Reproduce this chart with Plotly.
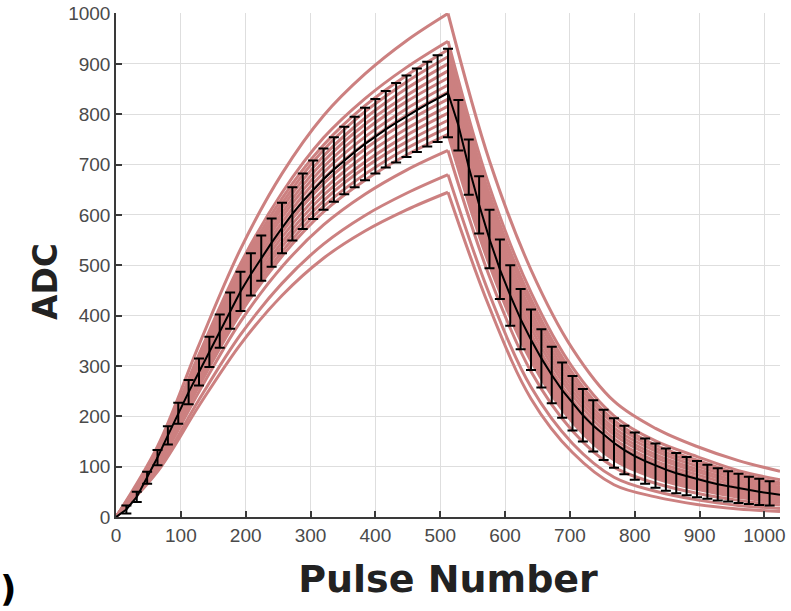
import plotly.graph_objects as go

# Sample grid for the individual channel curves; pulse 512 is the end of the charge phase
curve_pulses = [0, 64, 128, 192, 256, 320, 384, 448, 512, 576, 640, 704, 768, 832, 896, 960, 1024]
PEAK_INDEX = 8

# ADC readings per channel at curve_pulses
channel_adc = [
    [0, 140, 342, 532, 682, 797, 880, 946, 1000, 707, 491, 334, 230, 176, 140, 112, 91],
    [0, 132, 323, 503, 644, 753, 831, 893, 945, 656, 446, 297, 201, 151, 120, 92, 74],
    [0, 130, 317, 494, 633, 739, 817, 877, 928, 640, 432, 286, 192, 143, 113, 86, 68],
    [0, 128, 313, 487, 623, 729, 805, 864, 914, 627, 421, 277, 185, 137, 107, 81, 64],
    [0, 126, 308, 479, 614, 717, 792, 851, 900, 614, 409, 268, 177, 131, 101, 76, 59],
    [0, 124, 303, 471, 604, 706, 780, 837, 886, 601, 398, 259, 170, 124, 95, 71, 55],
    [0, 122, 298, 464, 595, 695, 768, 825, 872, 588, 387, 250, 163, 118, 90, 66, 51],
    [0, 120, 293, 457, 585, 684, 755, 811, 858, 575, 375, 241, 155, 111, 84, 61, 46],
    [0, 118, 289, 449, 575, 672, 742, 798, 844, 561, 363, 231, 147, 105, 78, 55, 41],
    [0, 116, 284, 442, 566, 662, 731, 785, 830, 551, 354, 224, 142, 100, 74, 53, 39],
    [0, 114, 279, 434, 556, 650, 718, 771, 816, 541, 345, 216, 136, 95, 70, 50, 37],
    [0, 112, 274, 426, 546, 639, 705, 758, 802, 530, 336, 209, 130, 91, 66, 47, 35],
    [0, 110, 270, 419, 537, 628, 694, 745, 788, 521, 327, 202, 124, 86, 63, 44, 33],
    [0, 108, 265, 412, 527, 617, 681, 732, 774, 510, 318, 195, 118, 82, 59, 42, 31],
    [0, 107, 260, 405, 518, 606, 669, 719, 760, 500, 310, 188, 113, 77, 55, 39, 29],
    [0, 102, 249, 388, 497, 580, 641, 689, 728, 477, 289, 171, 99, 67, 47, 33, 24],
    [0, 95, 233, 362, 464, 542, 599, 643, 680, 442, 258, 146, 79, 51, 34, 23, 17],
    [0, 90, 221, 343, 440, 514, 568, 610, 645, 416, 235, 128, 64, 40, 25, 16, 11],
]

# Average over channels, every 16 pulses
mean_pulses = list(range(0, 1025, 16))
mean_adc = [0, 15, 40, 78, 118, 162, 206, 248, 288, 328, 369, 410, 448, 482, 514, 545,
            574, 602, 627, 650, 671, 690, 708, 725, 741, 756, 770, 783, 796, 808, 820, 831,
            842, 778, 695, 620, 552, 492, 440, 393, 352, 315, 282, 252, 226, 202, 181, 163,
            147, 133, 121, 111, 102, 94, 87, 81, 75, 70, 65, 61, 57, 53, 50, 47, 44]
# Standard deviation at the interior sample points (pulse 16 .. 1008)
adc_std = [8, 10, 12, 15, 18, 21, 24, 27, 30, 33, 36, 39, 42, 45, 48, 50,
           53, 55, 58, 61, 64, 67, 70, 72, 74, 76, 79, 81, 83, 84, 86, 88,
           50, 55, 57, 58, 59, 60, 60, 60, 58, 56, 55, 54, 52, 51, 50, 49,
           48, 47, 45, 44, 42, 40, 38, 36, 34, 32, 30, 29, 27, 26, 24]

x_ticks = [0, 100, 200, 300, 400, 500, 600, 700, 800, 900, 1000]
y_ticks = [0, 100, 200, 300, 400, 500, 600, 700, 800, 900, 1000]

PINK = "rgb(204,128,128)"
TITLE_FONT = dict(family="DejaVu Sans, sans-serif", color="#222222")

fig = go.Figure()

curve_line = dict(color=PINK, width=3, shape="spline", smoothing=1.0)
rise_x = curve_pulses[:PEAK_INDEX + 1]
decay_x = curve_pulses[PEAK_INDEX:]
for vals in channel_adc:
    fig.add_trace(go.Scatter(x=rise_x, y=vals[:PEAK_INDEX + 1], mode="lines",
                             line=curve_line, hoverinfo="skip"))
    fig.add_trace(go.Scatter(x=decay_x, y=vals[PEAK_INDEX:], mode="lines",
                             line=curve_line, hoverinfo="skip"))

fig.add_trace(go.Scatter(x=mean_pulses, y=mean_adc, mode="lines",
                         line=dict(color="black", width=2)))
fig.add_trace(go.Scatter(x=mean_pulses[1:-1], y=mean_adc[1:-1], mode="markers",
                         marker=dict(size=1, color="black", opacity=0),
                         error_y=dict(type="data", array=adc_std, visible=True,
                                      color="black", thickness=2, width=5)))

axis_common = dict(
    showline=True, linecolor="#3a3a3a", linewidth=1.5,
    ticks="inside", ticklen=6, tickwidth=1.5, tickcolor="#3a3a3a",
    showgrid=True, gridcolor="#dedede", gridwidth=1,
    zeroline=False, mirror=False,
    tickfont=dict(family="Liberation Sans, Arial, sans-serif", size=19, color="#4a4a4a"),
)

fig.update_layout(
    width=791, height=611,
    margin=dict(l=116, r=11, t=13, b=94, autoexpand=False),
    plot_bgcolor="white", paper_bgcolor="white",
    showlegend=False,
    xaxis=dict(range=[0, 1024], tickvals=x_ticks, **axis_common,
               title=dict(text="<b>Pulse Number</b>", standoff=21,
                          font=dict(size=38, **TITLE_FONT))),
    yaxis=dict(range=[0, 1001], tickvals=y_ticks, **axis_common),
    annotations=[
        dict(text="<b>ADC</b>", xref="paper", yref="paper", x=-0.107, y=0.468,
             xanchor="center", yanchor="middle",
             textangle=-90, showarrow=False, font=dict(size=33, **TITLE_FONT)),
        dict(text="<b>)</b>", xref="paper", yref="paper", x=-0.163, y=-0.1865,
             xanchor="center", yanchor="bottom",
             showarrow=False, font=dict(size=36, family="DejaVu Sans, sans-serif", color="black")),
    ],
)

fig.write_html("out.html")
